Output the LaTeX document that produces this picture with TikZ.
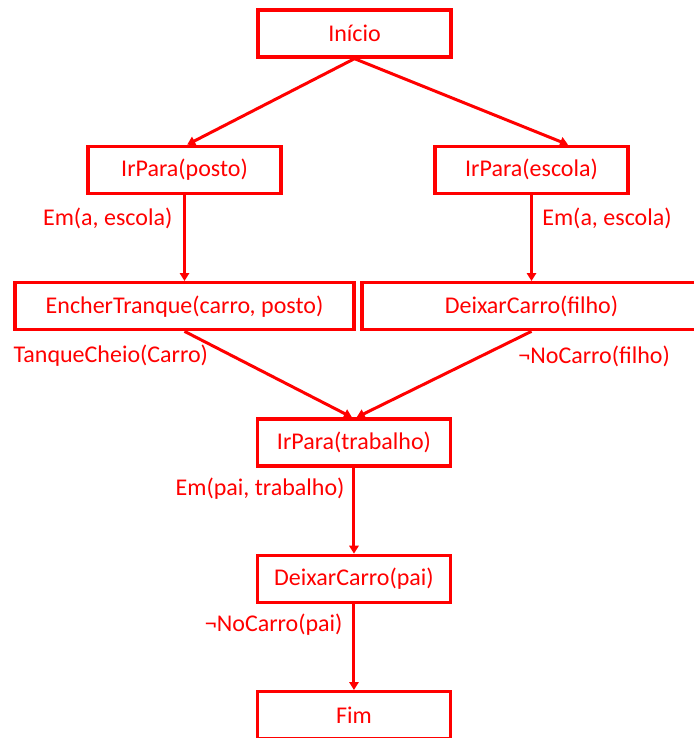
\documentclass[tikz,border=0pt]{standalone}
\usepackage{fontspec}
\setmainfont{Carlito}
\usetikzlibrary{positioning,arrows.meta}
\definecolor{vermelho}{RGB}{255,0,0}

\begin{document}
\begin{tikzpicture}[x=0.75pt,y=-0.75pt,node distance=64.5pt,
    acao/.style={draw=vermelho, line width=2.5pt, text=vermelho, minimum width=144.75pt,
      minimum height=35.25pt, inner sep=0pt, font=\fontsize{18}{20}\selectfont},
    acaolarga/.style={acao, minimum width=254.25pt},
    cond/.style={text=vermelho, inner sep=0pt, font=\fontsize{18}{20}\selectfont},
    seta/.style={draw=vermelho, line width=2.25pt, -{Triangle[length=6pt,width=7pt]}}]
    \useasboundingbox (0,0) rectangle (693,738);
    % Nodes
    \node[acao] (inicio) at (354.5,33.5) {Início} ; %
    \node[acao, below=of inicio, xshift=-127.5pt] (posto) {IrPara(posto)} ; %
    \node[acao, below=of inicio, xshift=132.75pt] (escola) {IrPara(escola)} ; %
    \node[acaolarga, below=of posto] (encher) {EncherTranque(carro, posto)} ; %
    \node[acaolarga, below=of escola] (filho) {DeixarCarro(filho)} ; %
    \node[acao, below=of encher, xshift=127.1pt] (trabalho) {IrPara(trabalho)} ; %
    \node[acao, below=of trabalho] (pai) {DeixarCarro(pai)} ; %
    \node[acao, below=of pai] (fim) {Fim} ; %
    % Conditions
    \node[cond, anchor=west] (tanque) at ([yshift=-18pt]encher.south west) {TanqueCheio(Carro)} ; %
    \node[cond, anchor=west] (semfilho) at ([xshift=-10pt,yshift=-19pt]filho.south) {¬NoCarro(filho)} ; %
    % Edges
    \draw[seta] (inicio.south) -- ([xshift=2pt]posto.north) ; %
    \draw[seta] (inicio.south) -- ([xshift=27.4pt]escola.north) ; %
    \draw[seta] (posto) -- node[cond, left=8pt, pos=.27] (emposto) {Em(a, escola)} (encher) ; %
    \draw[seta] (escola) -- node[cond, right=7pt, pos=.27] (emescola) {Em(a, escola)} (filho) ; %
    \draw[seta] (encher.south) -- ([xshift=-1.5pt]trabalho.north) ; %
    \draw[seta] (filho.south) -- ([xshift=2pt]trabalho.north) ; %
    \draw[seta] (trabalho) -- node[cond, left=6pt, pos=.24] (empai) {Em(pai, trabalho)} (pai) ; %
    \draw[seta] (pai) -- node[cond, left=7.5pt, pos=.24] (sempai) {¬NoCarro(pai)} (fim) ; %
\end{tikzpicture}
\end{document}
